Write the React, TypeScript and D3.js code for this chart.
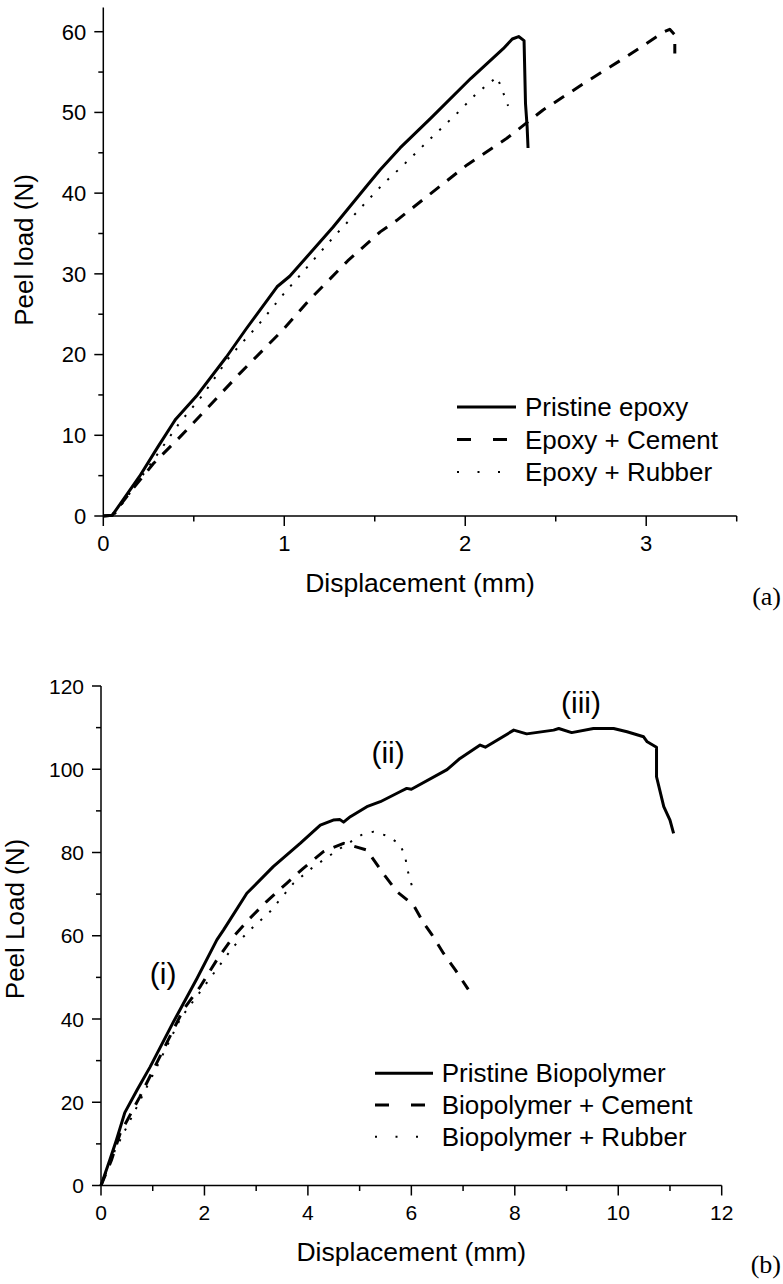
import React from 'react';
import * as d3 from 'd3';

// ---------- Data: panel (a) epoxy ----------
const epoxyPristine: [number, number][] = [
  [0, 0], [0.05, 0.1], [0.2, 4.9], [0.3, 8.5], [0.38, 11.3], [0.4, 12.0], [0.52, 15], [0.68, 19.7],
  [0.79, 23.2], [0.96, 28.4], [1.03, 29.7], [1.27, 35.8], [1.46, 41], [1.53, 42.9], [1.64, 45.6],
  [1.81, 49.3], [2.03, 54.2], [2.21, 57.9], [2.26, 59.1], [2.295, 59.4], [2.325, 58.9],
  [2.333, 51.1], [2.342, 48.2], [2.347, 45.6],
];
const epoxyCement: [number, number][] = [
  [0, 0], [0.05, 0.1], [0.15, 3], [0.277, 6.5], [0.424, 9.8], [0.572, 13.3], [0.756, 17.7],
  [0.99, 23], [1.14, 26.8], [1.35, 31.6], [1.53, 35.2], [1.62, 36.6], [2.01, 43.5], [2.23, 46.8],
  [2.43, 50.3], [2.67, 53.8], [2.89, 56.9], [3.1, 60], [3.13, 60.3], [3.158, 59.6], [3.158, 57.3],
];
const epoxyRubber: [number, number][] = [
  [0, 0], [0.06, 0.1], [0.2, 4.5], [0.42, 11.5], [0.55, 15], [0.7, 19.8], [0.85, 23.5], [1.0, 27.6],
  [1.27, 34.5], [1.54, 41], [1.65, 43.3], [1.81, 46.8], [1.955, 49.9], [2.065, 52.4], [2.176, 54.4],
  [2.204, 52.8], [2.237, 50.8],
];
const epoxyLabels = ['Pristine epoxy', 'Epoxy + Cement', 'Epoxy + Rubber'];
const epoxyXMajor = [0, 1, 2, 3];
const epoxyXMinor = [0.5, 1.5, 2.5, 3.5];
const epoxyYMajor = [0, 10, 20, 30, 40, 50, 60];
const epoxyYMinor = [5, 15, 25, 35, 45, 55];

// ---------- Data: panel (b) biopolymer ----------
const bioPristine: [number, number][] = [
  [0, 0], [0.17, 6.1], [0.3, 11], [0.46, 17.5], [0.7, 23], [0.95, 28.5], [1.4, 39.3], [1.85, 49.6],
  [2.24, 59], [2.37, 61.4], [2.82, 70.2], [3.33, 76.6], [3.85, 82.2], [4.24, 86.6], [4.49, 87.8],
  [4.62, 87.9], [4.69, 87.3], [4.82, 88.6], [5.14, 91], [5.4, 92.2], [5.78, 94.6], [5.91, 95.4],
  [6.0, 95.2], [6.69, 99.9], [6.94, 102.6], [7.33, 105.8], [7.43, 105.3], [7.98, 109.4],
  [8.23, 108.5], [8.75, 109.4], [8.85, 109.8], [9.1, 108.8], [9.52, 109.8], [9.91, 109.8],
  [10.17, 109], [10.49, 107.8], [10.56, 106.6], [10.74, 105.3], [10.74, 98.2], [10.88, 91],
  [11.0, 87.8], [11.07, 84.6],
];
const bioCement: [number, number][] = [
  [0, 0], [0.2, 6], [0.37, 12.5], [0.75, 21.3], [1.2, 32.5], [1.59, 42.2], [1.92, 47.8],
  [2.24, 54.2], [2.56, 59.8], [2.88, 64.2], [3.2, 68.2], [3.59, 72.6], [3.91, 76.2], [4.3, 80.2],
  [4.69, 82.2], [4.75, 82], [5.14, 80.6], [5.43, 75.4], [5.72, 70.6], [6.04, 67.4], [6.24, 63],
  [6.4, 60.2], [6.62, 55.8], [6.85, 51.8], [7.1, 47.1],
];
const bioRubber: [number, number][] = [
  [0, 0], [0.27, 8.5], [0.63, 17.3], [1.08, 28.5], [1.53, 40], [2.11, 49.8], [2.56, 57.4],
  [2.95, 62.2], [3.27, 65.8], [3.72, 72.6], [4.11, 76.6], [4.6, 80.8], [5.06, 84.4], [5.27, 85],
  [5.53, 84], [5.78, 82], [5.88, 79], [5.93, 75.6], [6.01, 72],
];
const bioLabels = ['Pristine Biopolymer', 'Biopolymer + Cement', 'Biopolymer + Rubber'];
const bioXMajor = [0, 2, 4, 6, 8, 10, 12];
const bioXMinor = [1, 3, 5, 7, 9, 11];
const bioYMajor = [0, 20, 40, 60, 80, 100, 120];
const bioYMinor = [10, 30, 50, 70, 90, 110];
const bioAnnotations: { text: string; x: number; y: number }[] = [
  { text: '(i)', x: 1.2, y: 48.5 },
  { text: '(ii)', x: 5.55, y: 101.5 },
  { text: '(iii)', x: 9.28, y: 113.5 },
];

const SANS = '"Liberation Sans", Arial, Helvetica, sans-serif';
const SERIF = '"Liberation Serif", "Times New Roman", serif';

type Style = { width: number; dash?: string; legendDash?: string };
const styles: Style[] = [
  { width: 3 },
  { width: 3, dash: '12,10', legendDash: '14,22' },
  { width: 2, dash: '2.2,9.8', legendDash: '2,18.5' },
];

type PanelProps = {
  x: d3.ScaleLinear<number, number>;
  y: d3.ScaleLinear<number, number>;
  xMajor: number[]; xMinor: number[]; yMajor: number[]; yMinor: number[];
  series: [number, number][][];
  labels: string[];
  tickFont: number;
  yTitle: string; yTitleX: number; yTitleY: number;
  legendX1: number; legendX2: number; legendTextX: number; legendRows: number[];
};

function Panel(p: PanelProps) {
  const { x, y } = p;
  const x0 = x.range()[0], x1 = x.range()[1];
  const y0 = y.range()[0], y1 = y.range()[1];
  const line = d3.line<[number, number]>().x(d => x(d[0])).y(d => y(d[1])).curve(d3.curveLinear);
  return (
    <g>
      {p.series.map((s, i) => (
        <path key={i} d={line(s) || ''} fill="none" stroke="#000" strokeWidth={styles[i].width}
          strokeDasharray={styles[i].dash} strokeLinejoin="round" />
      ))}
      <line x1={x0} x2={x1} y1={y0} y2={y0} stroke="#000" strokeWidth={1.5} />
      <line x1={x0} x2={x0} y1={y0} y2={y1} stroke="#000" strokeWidth={1.5} />
      {p.xMajor.map(v => (
        <g key={'xm' + v}>
          <line x1={x(v)} x2={x(v)} y1={y0} y2={y0 + 10} stroke="#000" strokeWidth={1.5} />
          <text x={x(v)} y={y0 + 34.7} textAnchor="middle" fontFamily={SANS} fontSize={p.tickFont}>{v}</text>
        </g>
      ))}
      {p.xMinor.map(v => (
        <line key={'xn' + v} x1={x(v)} x2={x(v)} y1={y0} y2={y0 + 5.5} stroke="#000" strokeWidth={1.5} />
      ))}
      {p.yMajor.map(v => (
        <g key={'ym' + v}>
          <line x1={x0 - 9} x2={x0} y1={y(v)} y2={y(v)} stroke="#000" strokeWidth={1.5} />
          <text x={x0 - 17} y={y(v) + p.tickFont * 0.36} textAnchor="end" fontFamily={SANS} fontSize={p.tickFont}>{v}</text>
        </g>
      ))}
      {p.yMinor.map(v => (
        <line key={'yn' + v} x1={x0 - 5} x2={x0} y1={y(v)} y2={y(v)} stroke="#000" strokeWidth={1.5} />
      ))}
      <text x={(x0 + x1) / 2} y={y0 + 75.5} textAnchor="middle" fontFamily={SANS} fontSize={26.5}>Displacement (mm)</text>
      <text transform={`translate(${p.yTitleX},${p.yTitleY}) rotate(-90)`} textAnchor="middle" fontFamily={SANS} fontSize={26}>{p.yTitle}</text>
      {p.labels.map((lab, i) => (
        <g key={'lg' + i}>
          <line x1={p.legendX1} x2={p.legendX2} y1={p.legendRows[i]} y2={p.legendRows[i]} stroke="#000"
            strokeWidth={styles[i].width} strokeDasharray={styles[i].legendDash} />
          <text x={p.legendTextX} y={p.legendRows[i] + 9} fontFamily={SANS} fontSize={26}>{lab}</text>
        </g>
      ))}
    </g>
  );
}

export default function App() {
  const xA = d3.scaleLinear().domain([0, 3.5]).range([103.3, 736.7]);
  const yA = d3.scaleLinear().domain([0, 63]).range([516, 7.5]);
  const xB = d3.scaleLinear().domain([0, 12]).range([101, 721.7]);
  const yB = d3.scaleLinear().domain([0, 120]).range([1185.5, 686]);
  return (
    <svg width={783} height={1284} style={{ position: 'absolute', left: 0, top: 0, background: '#fff' }}>
      <rect x={0} y={0} width={783} height={1284} fill="#fff" />
      <Panel x={xA} y={yA} xMajor={epoxyXMajor} xMinor={epoxyXMinor} yMajor={epoxyYMajor} yMinor={epoxyYMinor}
        series={[epoxyPristine, epoxyCement, epoxyRubber]} labels={epoxyLabels} tickFont={22}
        yTitle="Peel load (N)" yTitleX={33} yTitleY={250}
        legendX1={457} legendX2={516} legendTextX={525} legendRows={[407, 439.5, 472]} />
      <Panel x={xB} y={yB} xMajor={bioXMajor} xMinor={bioXMinor} yMajor={bioYMajor} yMinor={bioYMinor}
        series={[bioPristine, bioCement, bioRubber]} labels={bioLabels} tickFont={21}
        yTitle="Peel Load (N)" yTitleX={24} yTitleY={919}
        legendX1={375} legendX2={433} legendTextX={441.7} legendRows={[1073.3, 1105, 1136.7]} />
      {bioAnnotations.map(a => (
        <text key={a.text} x={xB(a.x)} y={yB(a.y)} textAnchor="middle" fontFamily={SANS} fontSize={30}>{a.text}</text>
      ))}
      <text x={781} y={605} textAnchor="end" fontFamily={SERIF} fontSize={26}>(a)</text>
      <text x={781} y={1273} textAnchor="end" fontFamily={SERIF} fontSize={26}>(b)</text>
    </svg>
  );
}
